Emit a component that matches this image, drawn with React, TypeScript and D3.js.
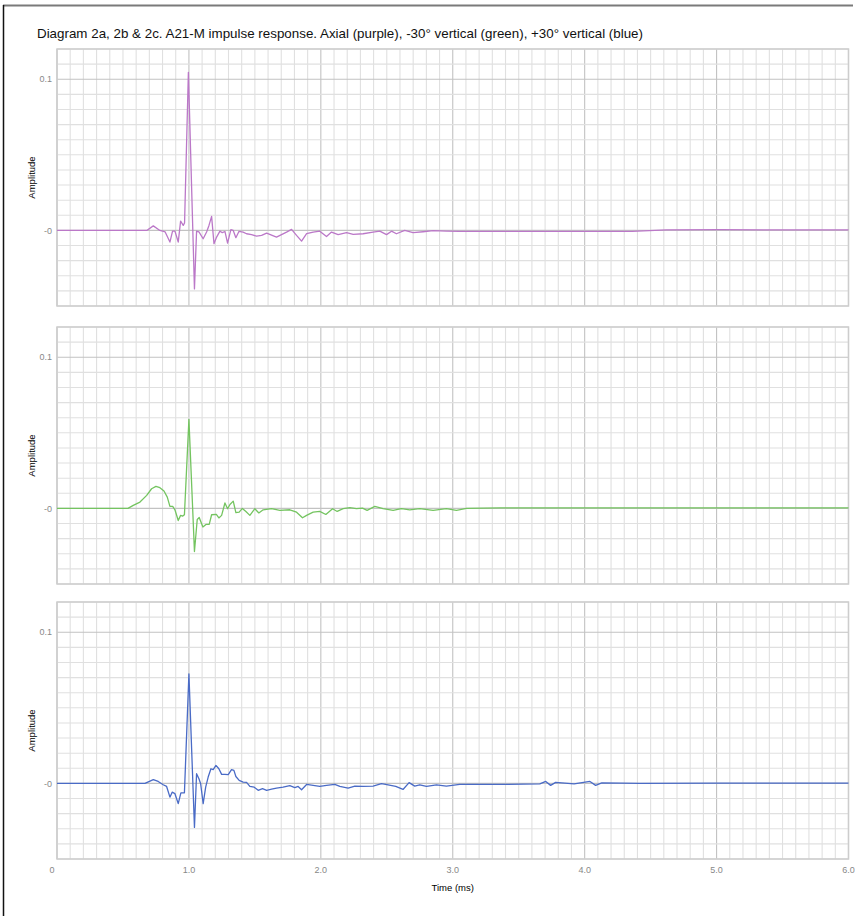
import React from "react";
import * as d3 from "d3";

// Impulse response traces (time in ms, amplitude)
const axialTime = [0, 0.68, 0.73, 0.78, 0.82, 0.856, 0.876, 0.894, 0.919, 0.937, 0.957, 0.967, 0.996, 1.042, 1.058, 1.076, 1.108, 1.134, 1.152, 1.172, 1.19, 1.21, 1.235, 1.253, 1.273, 1.293, 1.318, 1.336, 1.356, 1.379, 1.411, 1.437, 1.475, 1.513, 1.551, 1.589, 1.664, 1.74, 1.778, 1.816, 1.854, 1.892, 1.942, 1.992, 2.043, 2.081, 2.131, 2.195, 2.245, 2.32, 2.396, 2.447, 2.498, 2.536, 2.573, 2.636, 2.699, 2.775, 2.851, 2.952, 3.05, 3.81, 4.36, 4.62, 5.02, 5.63, 6.0];
const axialAmp = [0, 0, 0.003, 0, -0.001, -0.0077, -0.0005, -0.0005, -0.0077, 0.0062, 0.0033, 0.005, 0.1046, -0.0387, -0.0005, -0.001, -0.0055, -0.001, 0.0033, 0.0093, -0.0088, -0.0044, -0.0005, -0.0015, -0.0007, -0.0084, 0.0005, 0, -0.0048, -0.0007, -0.0011, -0.0022, -0.0028, -0.0038, -0.0033, -0.0018, -0.0044, -0.0011, 0.0007, -0.0033, -0.0071, -0.0022, -0.0011, -0.0005, -0.004, -0.0011, -0.0028, -0.0015, -0.0026, -0.0022, -0.0011, -0.0005, -0.0028, -0.0005, -0.0022, 0, -0.0015, -0.0009, -0.0002, -0.0005, -0.0007, -0.0007, -0.0007, 0.0003, 0.0005, 0.0003, 0.0003];

const minus30Time = [0, 0.538, 0.578, 0.629, 0.68, 0.717, 0.75, 0.78, 0.811, 0.836, 0.856, 0.877, 0.894, 0.919, 0.937, 0.952, 0.966, 1.0, 1.042, 1.063, 1.078, 1.106, 1.129, 1.154, 1.172, 1.208, 1.227, 1.248, 1.273, 1.293, 1.311, 1.336, 1.356, 1.381, 1.405, 1.432, 1.462, 1.5, 1.53, 1.563, 1.627, 1.689, 1.765, 1.816, 1.861, 1.892, 1.942, 1.992, 2.038, 2.089, 2.124, 2.169, 2.22, 2.27, 2.316, 2.351, 2.409, 2.472, 2.548, 2.611, 2.674, 2.75, 2.851, 2.952, 3.028, 3.104, 3.36, 6.0];
const minus30Amp = [0, 0, 0.002, 0.0042, 0.0086, 0.013, 0.0146, 0.0137, 0.0115, 0.0075, 0.0013, 0.0013, -0.0009, -0.008, -0.0046, -0.0051, -0.0042, 0.0589, -0.0285, -0.0073, -0.006, -0.0123, -0.0106, -0.0106, -0.0042, -0.004, -0.0063, -0.0046, 0.0036, -0.0002, 0.0026, 0.0048, -0.0028, -0.0025, 0, -0.002, -0.0046, -0.0002, -0.003, -0.0009, -0.0002, -0.0013, -0.0009, -0.0025, -0.0062, -0.0046, -0.0025, -0.002, -0.004, -0.0002, -0.002, -0.0002, 0.0005, -0.0002, 0.0002, -0.0013, 0.0013, -0.0002, -0.0013, -0.0002, -0.0009, -0.0002, -0.0013, -0.0002, -0.0013, 0, 0.0003, 0.0003];

const plus30Time = [0, 0.667, 0.73, 0.767, 0.805, 0.831, 0.856, 0.873, 0.894, 0.919, 0.939, 0.966, 1.0, 1.042, 1.058, 1.076, 1.089, 1.108, 1.127, 1.146, 1.167, 1.184, 1.205, 1.227, 1.248, 1.273, 1.298, 1.323, 1.341, 1.356, 1.381, 1.411, 1.437, 1.462, 1.495, 1.525, 1.558, 1.589, 1.627, 1.664, 1.714, 1.765, 1.803, 1.828, 1.854, 1.892, 1.942, 1.992, 2.043, 2.106, 2.144, 2.207, 2.258, 2.32, 2.396, 2.46, 2.51, 2.568, 2.623, 2.669, 2.712, 2.75, 2.801, 2.877, 2.952, 3.053, 3.36, 3.66, 3.705, 3.742, 3.78, 3.92, 4.04, 4.083, 4.13, 4.417, 5.02, 6.0];
const plus30Amp = [0, 0, 0.0025, 0.0013, -0.0009, -0.002, -0.0091, -0.0058, -0.0068, -0.0134, -0.0062, -0.0062, 0.0725, -0.0291, 0.0064, 0.0031, -0.0002, -0.0134, -0.0025, 0.0042, 0.0097, 0.0091, 0.0119, 0.0097, 0.006, 0.006, 0.0058, 0.0091, 0.0086, 0.0046, 0.002, 0.0009, 0.0007, -0.002, -0.0025, -0.0046, -0.0035, -0.0046, -0.0038, -0.0031, -0.0025, -0.0015, -0.0028, -0.002, -0.0042, -0.0007, -0.0013, -0.002, -0.0013, -0.0007, -0.002, -0.0031, -0.0018, -0.002, -0.0018, -0.0002, -0.0009, -0.002, -0.004, 0.0005, -0.0018, -0.0009, -0.002, -0.0009, -0.0018, -0.0007, -0.0007, -0.0003, 0.0013, -0.0013, 0.0007, -0.0003, 0.0013, -0.0013, 0.0003, 0, 0.0002, 0.0002];

const timeTickValues = [0, 1, 2, 3, 4, 5, 6];
const timeTickLabels = ["0", "1.0", "2.0", "3.0", "4.0", "5.0", "6.0"];
const ampTickValues = [0.1, 0];
const ampTickLabels = ["0.1", "-0"];

const panels = [
  { time: axialTime, amp: axialAmp, color: "#bb78c8" },
  { time: minus30Time, amp: minus30Amp, color: "#74c460" },
  { time: plus30Time, amp: plus30Amp, color: "#4a6bc6" },
];

const W = 862;
const H = 916;
const plotLeft = 57;
const plotRight = 848.5;
const panelTops = [49, 327, 602];
const panelH = 257;

const x = d3.scaleLinear().domain([0, 6]).range([plotLeft, plotRight]);
const minorX = d3.range(0, 61).map((i) => i / 10);
const minorY = d3.range(-5, 13).map((i) => i / 100);

const font = "'Helvetica Neue', Helvetica, Arial, 'Liberation Sans', sans-serif";

const Panel: React.FC<{ top: number; time: number[]; amp: number[]; color: string }> = ({ top, time, amp, color }) => {
  const y = d3.scaleLinear().domain([-0.05, 0.12]).range([top + panelH, top]);
  const pts = time.map((t, i) => [t, amp[i]] as [number, number]);
  const line = d3
    .line<[number, number]>()
    .x((d) => x(d[0]))
    .y((d) => y(d[1]));
  return (
    <g>
      {minorX.map((t, i) => (
        <line key={"vx" + i} x1={x(t)} x2={x(t)} y1={top} y2={top + panelH}
          stroke={i % 10 === 0 ? "#c2c2c2" : "#e0e0e0"} strokeWidth={1.1} />
      ))}
      {minorY.map((v, i) => (
        <line key={"hy" + i} x1={plotLeft} x2={plotRight} y1={y(v)} y2={y(v)}
          stroke={Math.abs(v) < 1e-9 || Math.abs(v - 0.1) < 1e-9 ? "#c2c2c2" : "#e0e0e0"} strokeWidth={1.1} />
      ))}
      <rect x={plotLeft} y={top} width={plotRight - plotLeft} height={panelH} fill="none" stroke="#cdcdcd" strokeWidth={1.5} />
      {ampTickValues.map((v, i) => (
        <text key={"yl" + i} x={plotLeft - 5} y={y(v)} dy="0.35em" textAnchor="end" fontSize={9} fill="#888" fontFamily={font}>
          {ampTickLabels[i]}
        </text>
      ))}
      <text transform={`translate(${35},${top + panelH / 2}) rotate(-90)`} textAnchor="middle" fontSize={9.5} fill="#000" fontFamily={font}>
        Amplitude
      </text>
      <path d={line(pts) || ""} fill="none" stroke={color} strokeWidth={1.3} strokeLinejoin="round" />
    </g>
  );
};

export default function App() {
  const bottom = panelTops[2] + panelH;
  return (
    <div style={{ position: "absolute", left: 0, top: 0 }}>
      <svg width={W} height={H} style={{ display: "block", background: "#fff" }}>
        <rect x={0} y={0} width={W} height={H} fill="#fff" />
        <text x={37} y={38} fontSize={12.4} fill="#111" fontFamily={font} textLength={606} lengthAdjust="spacingAndGlyphs">
          Diagram 2a, 2b &amp; 2c. A21-M impulse response. Axial (purple), -30° vertical (green), +30° vertical (blue)
        </text>
        {panels.map((p, i) => (
          <Panel key={i} top={panelTops[i]} time={p.time} amp={p.amp} color={p.color} />
        ))}
        {timeTickValues.map((t, i) => (
          <text key={"xl" + i} x={x(t) - (i === 0 ? 5 : 0)} y={bottom + 14} textAnchor="middle" fontSize={9} fill="#888" fontFamily={font}>
            {timeTickLabels[i]}
          </text>
        ))}
        <text x={x(3)} y={bottom + 32} textAnchor="middle" fontSize={9.5} fill="#000" fontFamily={font}>
          Time (ms)
        </text>
        <rect x={855} y={0} width={W - 855} height={H} fill="#fff" />
        <line x1={3} x2={853} y1={5.5} y2={5.5} stroke="#7a7a7a" strokeWidth={2} />
        <line x1={3.5} x2={3.5} y1={5} y2={H} stroke="#111" strokeWidth={1.5} />
      </svg>
    </div>
  );
}
